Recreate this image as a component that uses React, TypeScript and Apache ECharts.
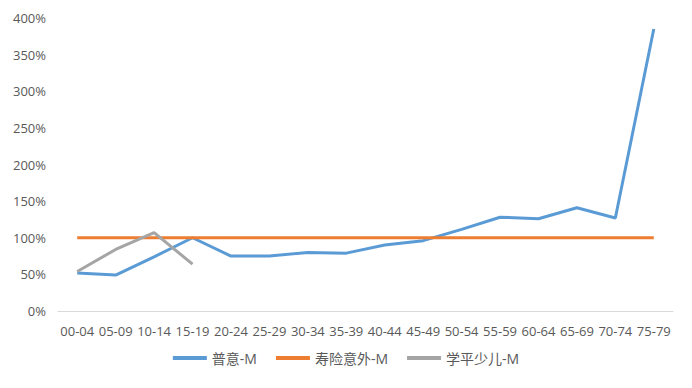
import React, { useEffect, useRef } from "react";
import * as echarts from "echarts";

const categories = ["00-04","05-09","10-14","15-19","20-24","25-29","30-34","35-39","40-44","45-49","50-54","55-59","60-64","65-69","70-74","75-79"];
const puyi = [0.52,0.49,0.74,1.0,0.75,0.75,0.80,0.79,0.90,0.96,1.115,1.28,1.26,1.41,1.27,3.85];
const shouxian = [1,1,1,1,1,1,1,1,1,1,1,1,1,1,1,1];
const xueping = [0.54,0.84,1.07,0.64];
const yTicksMax = 4;

const FONT = "'Open Sans', 'Noto Sans CJK SC', sans-serif";

export default function App() {
  const ref = useRef<HTMLDivElement>(null);
  useEffect(() => {
    const chart = echarts.init(ref.current!, undefined, { renderer: "svg" });
    chart.setOption({
      animation: false,
      backgroundColor: "#ffffff",
      textStyle: { fontFamily: FONT },
      grid: { left: 58, right: 19, top: 18, bottom: 77, containLabel: false },
      legend: {
        top: 346,
        left: "center",
        itemWidth: 34,
        itemHeight: 4,
        itemGap: 19,
        icon: "rect",
        textStyle: { color: "#595959", fontSize: 14, fontFamily: FONT },
        data: ["普意-M", "寿险意外-M", "学平少儿-M"],
      },
      xAxis: {
        type: "category",
        data: categories,
        boundaryGap: true,
        axisLine: { lineStyle: { color: "#d9d9d9", width: 1 } },
        axisTick: { show: false },
        axisLabel: { color: "#595959", fontSize: 13, interval: 0, margin: 13, fontFamily: FONT },
      },
      yAxis: {
        type: "value",
        min: 0,
        max: yTicksMax,
        interval: 0.5,
        axisLine: { show: false },
        axisTick: { show: false },
        splitLine: { show: false },
        axisLabel: {
          color: "#595959",
          fontSize: 13,
          margin: 12,
          fontFamily: FONT,
          formatter: (v: number) => `${Math.round(v * 100)}%`,
        },
      },
      series: [
        { name: "普意-M", type: "line", data: puyi, symbol: "none", lineStyle: { color: "#5B9BD5", width: 3 }, itemStyle: { color: "#5B9BD5" } },
        { name: "寿险意外-M", type: "line", data: shouxian, symbol: "none", lineStyle: { color: "#ED7D31", width: 3 }, itemStyle: { color: "#ED7D31" } },
        { name: "学平少儿-M", type: "line", data: xueping, symbol: "none", lineStyle: { color: "#A5A5A5", width: 3 }, itemStyle: { color: "#A5A5A5" } },
      ],
    });
    return () => chart.dispose();
  }, []);
  return (
    <div style={{ position: "fixed", left: 0, top: 0, width: 692, height: 388, boxSizing: "border-box", border: "1px solid #d9d9d9", background: "#fff" }}>
      <div ref={ref} style={{ position: "absolute", left: -1, top: -1, width: 692, height: 388 }} />
    </div>
  );
}
